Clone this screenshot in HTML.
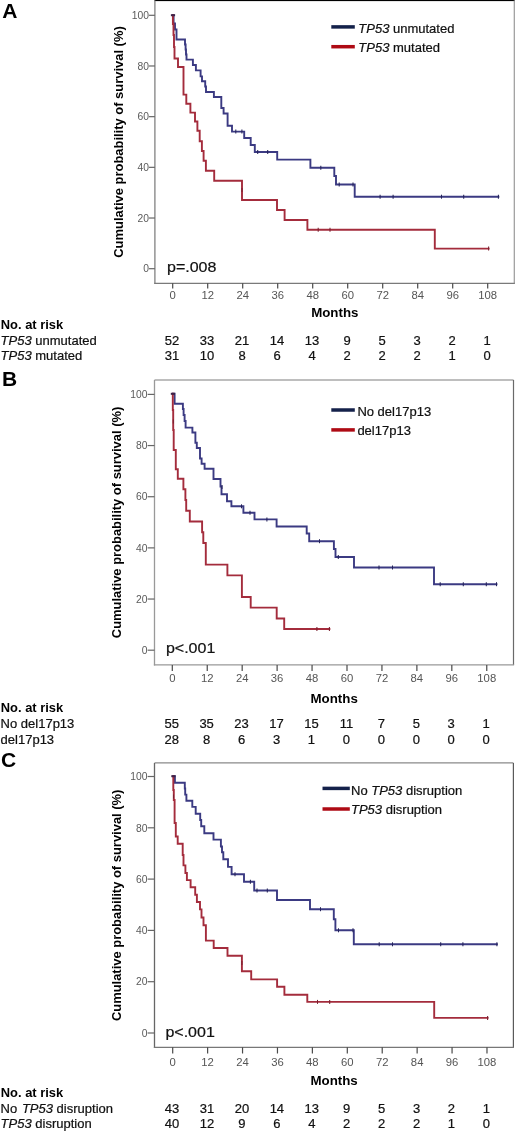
<!DOCTYPE html>
<html><head><meta charset="utf-8"><title>Kaplan-Meier survival curves</title>
<style>
html,body{margin:0;padding:0;background:#fff;}
body{width:520px;height:1134px;overflow:hidden;}
svg{display:block;font-family:"Liberation Sans", sans-serif;will-change:transform;}
</style></head><body>
<svg width="520" height="1134" viewBox="0 0 520 1134">
<rect width="520" height="1134" fill="#fff"/>
<text x="2.3" y="17.8" font-size="21" font-weight="bold" fill="#000">A</text>
<rect x="154.5" y="0" width="360.2" height="1.1" fill="#000"/>
<line x1="514.3" y1="0.5" x2="514.3" y2="283.3" stroke="#9a9a9a" stroke-width="1.2"/>
<line x1="154.9" y1="0.5" x2="154.9" y2="283.90000000000003" stroke="#808080" stroke-width="1.3"/>
<line x1="154.3" y1="283.3" x2="514.9" y2="283.3" stroke="#7a7a7a" stroke-width="1.3"/>
<line x1="149.0" y1="268.70" x2="154.9" y2="268.70" stroke="#666" stroke-width="1.2"/>
<text x="148.9" y="272.40" font-size="10.3" fill="#5a5a5a" text-anchor="end">0</text>
<line x1="149.0" y1="218.02" x2="154.9" y2="218.02" stroke="#666" stroke-width="1.2"/>
<text x="148.9" y="221.72" font-size="10.3" fill="#5a5a5a" text-anchor="end">20</text>
<line x1="149.0" y1="167.34" x2="154.9" y2="167.34" stroke="#666" stroke-width="1.2"/>
<text x="148.9" y="171.04" font-size="10.3" fill="#5a5a5a" text-anchor="end">40</text>
<line x1="149.0" y1="116.66" x2="154.9" y2="116.66" stroke="#666" stroke-width="1.2"/>
<text x="148.9" y="120.36" font-size="10.3" fill="#5a5a5a" text-anchor="end">60</text>
<line x1="149.0" y1="65.98" x2="154.9" y2="65.98" stroke="#666" stroke-width="1.2"/>
<text x="148.9" y="69.68" font-size="10.3" fill="#5a5a5a" text-anchor="end">80</text>
<line x1="149.0" y1="15.30" x2="154.9" y2="15.30" stroke="#666" stroke-width="1.2"/>
<text x="148.9" y="19.00" font-size="10.3" fill="#5a5a5a" text-anchor="end">100</text>
<line x1="172.70" y1="283.3" x2="172.70" y2="288.6" stroke="#4a4a4a" stroke-width="1.2"/>
<text x="172.70" y="299.0" font-size="11.3" fill="#555" text-anchor="middle">0</text>
<line x1="207.70" y1="283.3" x2="207.70" y2="288.6" stroke="#4a4a4a" stroke-width="1.2"/>
<text x="207.70" y="299.0" font-size="11.3" fill="#555" text-anchor="middle">12</text>
<line x1="242.70" y1="283.3" x2="242.70" y2="288.6" stroke="#4a4a4a" stroke-width="1.2"/>
<text x="242.70" y="299.0" font-size="11.3" fill="#555" text-anchor="middle">24</text>
<line x1="277.70" y1="283.3" x2="277.70" y2="288.6" stroke="#4a4a4a" stroke-width="1.2"/>
<text x="277.70" y="299.0" font-size="11.3" fill="#555" text-anchor="middle">36</text>
<line x1="312.70" y1="283.3" x2="312.70" y2="288.6" stroke="#4a4a4a" stroke-width="1.2"/>
<text x="312.70" y="299.0" font-size="11.3" fill="#555" text-anchor="middle">48</text>
<line x1="347.70" y1="283.3" x2="347.70" y2="288.6" stroke="#4a4a4a" stroke-width="1.2"/>
<text x="347.70" y="299.0" font-size="11.3" fill="#555" text-anchor="middle">60</text>
<line x1="382.70" y1="283.3" x2="382.70" y2="288.6" stroke="#4a4a4a" stroke-width="1.2"/>
<text x="382.70" y="299.0" font-size="11.3" fill="#555" text-anchor="middle">72</text>
<line x1="417.70" y1="283.3" x2="417.70" y2="288.6" stroke="#4a4a4a" stroke-width="1.2"/>
<text x="417.70" y="299.0" font-size="11.3" fill="#555" text-anchor="middle">84</text>
<line x1="452.70" y1="283.3" x2="452.70" y2="288.6" stroke="#4a4a4a" stroke-width="1.2"/>
<text x="452.70" y="299.0" font-size="11.3" fill="#555" text-anchor="middle">96</text>
<line x1="487.70" y1="283.3" x2="487.70" y2="288.6" stroke="#4a4a4a" stroke-width="1.2"/>
<text x="487.70" y="299.0" font-size="11.3" fill="#555" text-anchor="middle">108</text>
<text transform="translate(122.6,142.0) rotate(-90)" font-size="12.95" font-weight="bold" text-anchor="middle" fill="#000">Cumulative probability of survival (%)</text>
<text x="334.80" y="317.3" font-size="13.3" font-weight="bold" text-anchor="middle" fill="#000">Months</text>
<line x1="331.3" y1="26.9" x2="354.8" y2="26.9" stroke="#14214a" stroke-width="3.5"/>
<text x="358.3" y="33.1" font-size="13" fill="#111" stroke="#111" stroke-width="0.22"><tspan font-style="italic">TP53</tspan> unmutated</text>
<line x1="331.3" y1="46.7" x2="354.8" y2="46.7" stroke="#ae0a14" stroke-width="3.5"/>
<text x="358.3" y="52.3" font-size="13" fill="#111" stroke="#111" stroke-width="0.22"><tspan font-style="italic">TP53</tspan> mutated</text>
<text x="167.0" y="272.4" textLength="49.4" lengthAdjust="spacingAndGlyphs" font-size="15.5" fill="#111" stroke="#111" stroke-width="0.22">p=.008</text>
<path d="M172.9 15.2 H173.6 V23.5 H175 V29.5 H176.5 V39.5 H185 V44.5 H185.6 V49.5 H186 V54.5 H186.5 V59.6 H192.9 V65 H195.9 V70.4 H200.6 V76.4 H202 V81.2 H205.2 V86.5 H206 V92 H213.9 V97 H221.3 V108 H223.6 V113.5 H227.6 V125.8 H232 V131.6 H244.2 V138 H250.7 V145 H254.8 V152 H277.2 V159.6 H310.4 V167.7 H334.3 V176 H336 V184.5 H354.7 V196.7 H498.4" fill="none" stroke="#3b3a82" stroke-width="1.9" stroke-linejoin="miter" stroke-linecap="square"/>
<line x1="235.8" y1="129.6" x2="235.8" y2="133.6" stroke="#25235a" stroke-width="1.05"/>
<line x1="241.9" y1="129.6" x2="241.9" y2="133.6" stroke="#25235a" stroke-width="1.05"/>
<line x1="257.7" y1="150.0" x2="257.7" y2="154.0" stroke="#25235a" stroke-width="1.05"/>
<line x1="267.7" y1="150.0" x2="267.7" y2="154.0" stroke="#25235a" stroke-width="1.05"/>
<line x1="320.8" y1="165.7" x2="320.8" y2="169.7" stroke="#25235a" stroke-width="1.05"/>
<line x1="339.2" y1="182.5" x2="339.2" y2="186.5" stroke="#25235a" stroke-width="1.05"/>
<line x1="353" y1="182.5" x2="353" y2="186.5" stroke="#25235a" stroke-width="1.05"/>
<line x1="380.1" y1="194.7" x2="380.1" y2="198.7" stroke="#25235a" stroke-width="1.05"/>
<line x1="393.1" y1="194.7" x2="393.1" y2="198.7" stroke="#25235a" stroke-width="1.05"/>
<line x1="441.5" y1="194.7" x2="441.5" y2="198.7" stroke="#25235a" stroke-width="1.05"/>
<line x1="463.7" y1="194.7" x2="463.7" y2="198.7" stroke="#25235a" stroke-width="1.05"/>
<line x1="498.4" y1="194.7" x2="498.4" y2="198.7" stroke="#25235a" stroke-width="1.05"/>
<path d="M172.9 15.2 V24 H173.5 V35 H174 V47 H174.5 V58.5 H178 V67 H183.5 V94.6 H186.3 V103.8 H190.4 V112.6 H195 V121.5 H197.4 V130.8 H199.7 V141.2 H201.9 V151 H203.6 V160.8 H205.9 V170.8 H214.2 V180.8 H242 V200 H277 V210 H284.6 V220 H307.4 V229.8 H434.8 V248.6 H488.6" fill="none" stroke="#a42c3c" stroke-width="1.9" stroke-linejoin="miter" stroke-linecap="square"/>
<line x1="242" y1="188.0" x2="242" y2="192.0" stroke="#7a2030" stroke-width="1.05"/>
<line x1="318.2" y1="227.8" x2="318.2" y2="231.8" stroke="#7a2030" stroke-width="1.05"/>
<line x1="330" y1="227.8" x2="330" y2="231.8" stroke="#7a2030" stroke-width="1.05"/>
<line x1="488.6" y1="246.6" x2="488.6" y2="250.6" stroke="#7a2030" stroke-width="1.05"/>
<rect x="170.9" y="14.2" width="4.2" height="2.0" fill="#3e2248"/>
<text x="0.8" y="328.6" font-size="12.9" font-weight="bold" fill="#000">No. at risk</text>
<text x="0.6" y="344.7" font-size="13" fill="#111" stroke="#111" stroke-width="0.22"><tspan font-style="italic">TP53</tspan> unmutated</text>
<text x="0.6" y="360.3" font-size="13" fill="#111" stroke="#111" stroke-width="0.22"><tspan font-style="italic">TP53</tspan> mutated</text>
<text x="172.10" y="344.80" font-size="13" fill="#111" stroke="#111" stroke-width="0.22" text-anchor="middle">52</text>
<text x="172.10" y="360.30" font-size="13" fill="#111" stroke="#111" stroke-width="0.22" text-anchor="middle">31</text>
<text x="207.10" y="344.80" font-size="13" fill="#111" stroke="#111" stroke-width="0.22" text-anchor="middle">33</text>
<text x="207.10" y="360.30" font-size="13" fill="#111" stroke="#111" stroke-width="0.22" text-anchor="middle">10</text>
<text x="242.10" y="344.80" font-size="13" fill="#111" stroke="#111" stroke-width="0.22" text-anchor="middle">21</text>
<text x="242.10" y="360.30" font-size="13" fill="#111" stroke="#111" stroke-width="0.22" text-anchor="middle">8</text>
<text x="277.10" y="344.80" font-size="13" fill="#111" stroke="#111" stroke-width="0.22" text-anchor="middle">14</text>
<text x="277.10" y="360.30" font-size="13" fill="#111" stroke="#111" stroke-width="0.22" text-anchor="middle">6</text>
<text x="312.10" y="344.80" font-size="13" fill="#111" stroke="#111" stroke-width="0.22" text-anchor="middle">13</text>
<text x="312.10" y="360.30" font-size="13" fill="#111" stroke="#111" stroke-width="0.22" text-anchor="middle">4</text>
<text x="347.10" y="344.80" font-size="13" fill="#111" stroke="#111" stroke-width="0.22" text-anchor="middle">9</text>
<text x="347.10" y="360.30" font-size="13" fill="#111" stroke="#111" stroke-width="0.22" text-anchor="middle">2</text>
<text x="382.10" y="344.80" font-size="13" fill="#111" stroke="#111" stroke-width="0.22" text-anchor="middle">5</text>
<text x="382.10" y="360.30" font-size="13" fill="#111" stroke="#111" stroke-width="0.22" text-anchor="middle">2</text>
<text x="417.10" y="344.80" font-size="13" fill="#111" stroke="#111" stroke-width="0.22" text-anchor="middle">3</text>
<text x="417.10" y="360.30" font-size="13" fill="#111" stroke="#111" stroke-width="0.22" text-anchor="middle">2</text>
<text x="452.10" y="344.80" font-size="13" fill="#111" stroke="#111" stroke-width="0.22" text-anchor="middle">2</text>
<text x="452.10" y="360.30" font-size="13" fill="#111" stroke="#111" stroke-width="0.22" text-anchor="middle">1</text>
<text x="487.10" y="344.80" font-size="13" fill="#111" stroke="#111" stroke-width="0.22" text-anchor="middle">1</text>
<text x="487.10" y="360.30" font-size="13" fill="#111" stroke="#111" stroke-width="0.22" text-anchor="middle">0</text>
<text x="2.0" y="385.5" font-size="21" font-weight="bold" fill="#000">B</text>
<line x1="154.5" y1="380.0" x2="513.5" y2="380.0" stroke="#a8a8a8" stroke-width="1.4"/>
<line x1="513.5" y1="380.0" x2="513.5" y2="664.9" stroke="#6a6a6a" stroke-width="1.2"/>
<line x1="154.5" y1="380.0" x2="154.5" y2="665.5" stroke="#999" stroke-width="1.3"/>
<line x1="153.9" y1="664.9" x2="514.1" y2="664.9" stroke="#999" stroke-width="1.3"/>
<line x1="147.6" y1="650.20" x2="154.5" y2="650.20" stroke="#666" stroke-width="1.2"/>
<text x="147.5" y="653.90" font-size="10.3" fill="#5a5a5a" text-anchor="end">0</text>
<line x1="147.6" y1="599.04" x2="154.5" y2="599.04" stroke="#666" stroke-width="1.2"/>
<text x="147.5" y="602.74" font-size="10.3" fill="#5a5a5a" text-anchor="end">20</text>
<line x1="147.6" y1="547.88" x2="154.5" y2="547.88" stroke="#666" stroke-width="1.2"/>
<text x="147.5" y="551.58" font-size="10.3" fill="#5a5a5a" text-anchor="end">40</text>
<line x1="147.6" y1="496.72" x2="154.5" y2="496.72" stroke="#666" stroke-width="1.2"/>
<text x="147.5" y="500.42" font-size="10.3" fill="#5a5a5a" text-anchor="end">60</text>
<line x1="147.6" y1="445.56" x2="154.5" y2="445.56" stroke="#666" stroke-width="1.2"/>
<text x="147.5" y="449.26" font-size="10.3" fill="#5a5a5a" text-anchor="end">80</text>
<line x1="147.6" y1="394.40" x2="154.5" y2="394.40" stroke="#666" stroke-width="1.2"/>
<text x="147.5" y="398.10" font-size="10.3" fill="#5a5a5a" text-anchor="end">100</text>
<line x1="172.30" y1="664.9" x2="172.30" y2="671.1" stroke="#4a4a4a" stroke-width="1.2"/>
<text x="172.30" y="682.4" font-size="11.3" fill="#555" text-anchor="middle">0</text>
<line x1="207.24" y1="664.9" x2="207.24" y2="671.1" stroke="#4a4a4a" stroke-width="1.2"/>
<text x="207.24" y="682.4" font-size="11.3" fill="#555" text-anchor="middle">12</text>
<line x1="242.18" y1="664.9" x2="242.18" y2="671.1" stroke="#4a4a4a" stroke-width="1.2"/>
<text x="242.18" y="682.4" font-size="11.3" fill="#555" text-anchor="middle">24</text>
<line x1="277.12" y1="664.9" x2="277.12" y2="671.1" stroke="#4a4a4a" stroke-width="1.2"/>
<text x="277.12" y="682.4" font-size="11.3" fill="#555" text-anchor="middle">36</text>
<line x1="312.06" y1="664.9" x2="312.06" y2="671.1" stroke="#4a4a4a" stroke-width="1.2"/>
<text x="312.06" y="682.4" font-size="11.3" fill="#555" text-anchor="middle">48</text>
<line x1="347.00" y1="664.9" x2="347.00" y2="671.1" stroke="#4a4a4a" stroke-width="1.2"/>
<text x="347.00" y="682.4" font-size="11.3" fill="#555" text-anchor="middle">60</text>
<line x1="381.94" y1="664.9" x2="381.94" y2="671.1" stroke="#4a4a4a" stroke-width="1.2"/>
<text x="381.94" y="682.4" font-size="11.3" fill="#555" text-anchor="middle">72</text>
<line x1="416.88" y1="664.9" x2="416.88" y2="671.1" stroke="#4a4a4a" stroke-width="1.2"/>
<text x="416.88" y="682.4" font-size="11.3" fill="#555" text-anchor="middle">84</text>
<line x1="451.82" y1="664.9" x2="451.82" y2="671.1" stroke="#4a4a4a" stroke-width="1.2"/>
<text x="451.82" y="682.4" font-size="11.3" fill="#555" text-anchor="middle">96</text>
<line x1="486.76" y1="664.9" x2="486.76" y2="671.1" stroke="#4a4a4a" stroke-width="1.2"/>
<text x="486.76" y="682.4" font-size="11.3" fill="#555" text-anchor="middle">108</text>
<text transform="translate(120.5,522.45) rotate(-90)" font-size="12.95" font-weight="bold" text-anchor="middle" fill="#000">Cumulative probability of survival (%)</text>
<text x="334.20" y="702.8" font-size="13.3" font-weight="bold" text-anchor="middle" fill="#000">Months</text>
<line x1="331.3" y1="410.0" x2="354.8" y2="410.0" stroke="#14214a" stroke-width="3.5"/>
<text x="357.4" y="415.6" font-size="13" fill="#111" stroke="#111" stroke-width="0.22">No del17p13</text>
<line x1="331.3" y1="429.9" x2="354.8" y2="429.9" stroke="#ae0a14" stroke-width="3.5"/>
<text x="357.4" y="435.0" font-size="13" fill="#111" stroke="#111" stroke-width="0.22">del17p13</text>
<text x="165.9" y="653.4" textLength="49.4" lengthAdjust="spacingAndGlyphs" font-size="15.5" fill="#111" stroke="#111" stroke-width="0.22">p&lt;.001</text>
<path d="M172.9 393.8 H174.6 V403.7 H182.9 V409 H183.6 V415 H184.6 V421 H185.6 V427.6 H192.4 V432.5 H195.4 V442.7 H196.8 V448 H200 V458.5 H201.6 V463.7 H204.6 V468.8 H213.5 V479 H220.5 V486.5 H221.5 V494.2 H227 V501.2 H231.4 V506.3 H243.4 V512.7 H254.5 V519.4 H276.6 V526.5 H306.7 V533.5 H309.2 V541.2 H333.9 V549 H335.5 V557 H354 V567.5 H434 V584.2 H496.5" fill="none" stroke="#3b3a82" stroke-width="1.9" stroke-linejoin="miter" stroke-linecap="square"/>
<line x1="222" y1="485.0" x2="222" y2="489.0" stroke="#25235a" stroke-width="1.05"/>
<line x1="241.5" y1="504.3" x2="241.5" y2="508.3" stroke="#25235a" stroke-width="1.05"/>
<line x1="250" y1="510.70000000000005" x2="250" y2="514.7" stroke="#25235a" stroke-width="1.05"/>
<line x1="266.9" y1="517.4" x2="266.9" y2="521.4" stroke="#25235a" stroke-width="1.05"/>
<line x1="319.5" y1="539.2" x2="319.5" y2="543.2" stroke="#25235a" stroke-width="1.05"/>
<line x1="338.3" y1="555.0" x2="338.3" y2="559.0" stroke="#25235a" stroke-width="1.05"/>
<line x1="379" y1="565.5" x2="379" y2="569.5" stroke="#25235a" stroke-width="1.05"/>
<line x1="392.5" y1="565.5" x2="392.5" y2="569.5" stroke="#25235a" stroke-width="1.05"/>
<line x1="440.2" y1="582.2" x2="440.2" y2="586.2" stroke="#25235a" stroke-width="1.05"/>
<line x1="463.3" y1="582.2" x2="463.3" y2="586.2" stroke="#25235a" stroke-width="1.05"/>
<line x1="486.3" y1="582.2" x2="486.3" y2="586.2" stroke="#25235a" stroke-width="1.05"/>
<line x1="496.5" y1="582.2" x2="496.5" y2="586.2" stroke="#25235a" stroke-width="1.05"/>
<path d="M172.8 393.8 V410 H173.2 V430 H173.7 V450 H175.8 V469.2 H177.8 V478.7 H183.4 V489.2 H185.4 V500 H186.2 V510.8 H189.8 V521.5 H202.1 V532.3 H203.3 V543 H205.8 V564.6 H227.4 V575.4 H241.9 V597 H250.7 V607.6 H276.7 V618.5 H284.2 V629 H329.4" fill="none" stroke="#a42c3c" stroke-width="1.9" stroke-linejoin="miter" stroke-linecap="square"/>
<line x1="173.3" y1="419.5" x2="173.3" y2="423.5" stroke="#7a2030" stroke-width="1.05"/>
<line x1="316.9" y1="627.0" x2="316.9" y2="631.0" stroke="#7a2030" stroke-width="1.05"/>
<line x1="329.4" y1="627.0" x2="329.4" y2="631.0" stroke="#7a2030" stroke-width="1.05"/>
<rect x="170.8" y="392.8" width="4.2" height="2.0" fill="#3e2248"/>
<text x="0.8" y="711.9" font-size="12.9" font-weight="bold" fill="#000">No. at risk</text>
<text x="0.6" y="727.7" font-size="13" fill="#111" stroke="#111" stroke-width="0.22">No del17p13</text>
<text x="0.6" y="743.6" font-size="13" fill="#111" stroke="#111" stroke-width="0.22">del17p13</text>
<text x="171.70" y="727.80" font-size="13" fill="#111" stroke="#111" stroke-width="0.22" text-anchor="middle">55</text>
<text x="171.70" y="743.60" font-size="13" fill="#111" stroke="#111" stroke-width="0.22" text-anchor="middle">28</text>
<text x="206.64" y="727.80" font-size="13" fill="#111" stroke="#111" stroke-width="0.22" text-anchor="middle">35</text>
<text x="206.64" y="743.60" font-size="13" fill="#111" stroke="#111" stroke-width="0.22" text-anchor="middle">8</text>
<text x="241.58" y="727.80" font-size="13" fill="#111" stroke="#111" stroke-width="0.22" text-anchor="middle">23</text>
<text x="241.58" y="743.60" font-size="13" fill="#111" stroke="#111" stroke-width="0.22" text-anchor="middle">6</text>
<text x="276.52" y="727.80" font-size="13" fill="#111" stroke="#111" stroke-width="0.22" text-anchor="middle">17</text>
<text x="276.52" y="743.60" font-size="13" fill="#111" stroke="#111" stroke-width="0.22" text-anchor="middle">3</text>
<text x="311.46" y="727.80" font-size="13" fill="#111" stroke="#111" stroke-width="0.22" text-anchor="middle">15</text>
<text x="311.46" y="743.60" font-size="13" fill="#111" stroke="#111" stroke-width="0.22" text-anchor="middle">1</text>
<text x="346.40" y="727.80" font-size="13" fill="#111" stroke="#111" stroke-width="0.22" text-anchor="middle">11</text>
<text x="346.40" y="743.60" font-size="13" fill="#111" stroke="#111" stroke-width="0.22" text-anchor="middle">0</text>
<text x="381.34" y="727.80" font-size="13" fill="#111" stroke="#111" stroke-width="0.22" text-anchor="middle">7</text>
<text x="381.34" y="743.60" font-size="13" fill="#111" stroke="#111" stroke-width="0.22" text-anchor="middle">0</text>
<text x="416.28" y="727.80" font-size="13" fill="#111" stroke="#111" stroke-width="0.22" text-anchor="middle">5</text>
<text x="416.28" y="743.60" font-size="13" fill="#111" stroke="#111" stroke-width="0.22" text-anchor="middle">0</text>
<text x="451.22" y="727.80" font-size="13" fill="#111" stroke="#111" stroke-width="0.22" text-anchor="middle">3</text>
<text x="451.22" y="743.60" font-size="13" fill="#111" stroke="#111" stroke-width="0.22" text-anchor="middle">0</text>
<text x="486.16" y="727.80" font-size="13" fill="#111" stroke="#111" stroke-width="0.22" text-anchor="middle">1</text>
<text x="486.16" y="743.60" font-size="13" fill="#111" stroke="#111" stroke-width="0.22" text-anchor="middle">0</text>
<text x="1.0" y="766.7" font-size="21" font-weight="bold" fill="#000">C</text>
<line x1="154.5" y1="762.9" x2="513.4" y2="762.9" stroke="#8a8a8a" stroke-width="1.4"/>
<line x1="513.4" y1="762.9" x2="513.4" y2="1047.3" stroke="#5a5a5a" stroke-width="1.2"/>
<line x1="154.5" y1="762.9" x2="154.5" y2="1047.8999999999999" stroke="#666" stroke-width="1.3"/>
<line x1="153.9" y1="1047.3" x2="514.0" y2="1047.3" stroke="#777" stroke-width="1.3"/>
<line x1="147.6" y1="1033.00" x2="154.5" y2="1033.00" stroke="#666" stroke-width="1.2"/>
<text x="147.5" y="1036.70" font-size="10.3" fill="#5a5a5a" text-anchor="end">0</text>
<line x1="147.6" y1="981.70" x2="154.5" y2="981.70" stroke="#666" stroke-width="1.2"/>
<text x="147.5" y="985.40" font-size="10.3" fill="#5a5a5a" text-anchor="end">20</text>
<line x1="147.6" y1="930.40" x2="154.5" y2="930.40" stroke="#666" stroke-width="1.2"/>
<text x="147.5" y="934.10" font-size="10.3" fill="#5a5a5a" text-anchor="end">40</text>
<line x1="147.6" y1="879.10" x2="154.5" y2="879.10" stroke="#666" stroke-width="1.2"/>
<text x="147.5" y="882.80" font-size="10.3" fill="#5a5a5a" text-anchor="end">60</text>
<line x1="147.6" y1="827.80" x2="154.5" y2="827.80" stroke="#666" stroke-width="1.2"/>
<text x="147.5" y="831.50" font-size="10.3" fill="#5a5a5a" text-anchor="end">80</text>
<line x1="147.6" y1="776.50" x2="154.5" y2="776.50" stroke="#666" stroke-width="1.2"/>
<text x="147.5" y="780.20" font-size="10.3" fill="#5a5a5a" text-anchor="end">100</text>
<line x1="172.70" y1="1047.3" x2="172.70" y2="1053.5" stroke="#4a4a4a" stroke-width="1.2"/>
<text x="172.70" y="1065.5" font-size="11.3" fill="#555" text-anchor="middle">0</text>
<line x1="207.62" y1="1047.3" x2="207.62" y2="1053.5" stroke="#4a4a4a" stroke-width="1.2"/>
<text x="207.62" y="1065.5" font-size="11.3" fill="#555" text-anchor="middle">12</text>
<line x1="242.54" y1="1047.3" x2="242.54" y2="1053.5" stroke="#4a4a4a" stroke-width="1.2"/>
<text x="242.54" y="1065.5" font-size="11.3" fill="#555" text-anchor="middle">24</text>
<line x1="277.46" y1="1047.3" x2="277.46" y2="1053.5" stroke="#4a4a4a" stroke-width="1.2"/>
<text x="277.46" y="1065.5" font-size="11.3" fill="#555" text-anchor="middle">36</text>
<line x1="312.38" y1="1047.3" x2="312.38" y2="1053.5" stroke="#4a4a4a" stroke-width="1.2"/>
<text x="312.38" y="1065.5" font-size="11.3" fill="#555" text-anchor="middle">48</text>
<line x1="347.30" y1="1047.3" x2="347.30" y2="1053.5" stroke="#4a4a4a" stroke-width="1.2"/>
<text x="347.30" y="1065.5" font-size="11.3" fill="#555" text-anchor="middle">60</text>
<line x1="382.22" y1="1047.3" x2="382.22" y2="1053.5" stroke="#4a4a4a" stroke-width="1.2"/>
<text x="382.22" y="1065.5" font-size="11.3" fill="#555" text-anchor="middle">72</text>
<line x1="417.14" y1="1047.3" x2="417.14" y2="1053.5" stroke="#4a4a4a" stroke-width="1.2"/>
<text x="417.14" y="1065.5" font-size="11.3" fill="#555" text-anchor="middle">84</text>
<line x1="452.06" y1="1047.3" x2="452.06" y2="1053.5" stroke="#4a4a4a" stroke-width="1.2"/>
<text x="452.06" y="1065.5" font-size="11.3" fill="#555" text-anchor="middle">96</text>
<line x1="486.98" y1="1047.3" x2="486.98" y2="1053.5" stroke="#4a4a4a" stroke-width="1.2"/>
<text x="486.98" y="1065.5" font-size="11.3" fill="#555" text-anchor="middle">108</text>
<text transform="translate(120.5,905.35) rotate(-90)" font-size="12.95" font-weight="bold" text-anchor="middle" fill="#000">Cumulative probability of survival (%)</text>
<text x="334.15" y="1085.4" font-size="13.3" font-weight="bold" text-anchor="middle" fill="#000">Months</text>
<line x1="322.5" y1="788.4" x2="349.8" y2="788.4" stroke="#14214a" stroke-width="3.5"/>
<text x="351.0" y="794.6" font-size="13" fill="#111" stroke="#111" stroke-width="0.22">No <tspan font-style="italic">TP53</tspan> disruption</text>
<line x1="322.5" y1="809.0" x2="349.8" y2="809.0" stroke="#ae0a14" stroke-width="3.5"/>
<text x="351.0" y="813.6" font-size="13" fill="#111" stroke="#111" stroke-width="0.22"><tspan font-style="italic">TP53</tspan> disruption</text>
<text x="165.4" y="1037.0" textLength="49.4" lengthAdjust="spacingAndGlyphs" font-size="15.5" fill="#111" stroke="#111" stroke-width="0.22">p&lt;.001</text>
<path d="M173.3 776.2 H174.9 V782.8 H184.8 V788.5 H185.2 V794.6 H186.4 V800.8 H192.3 V806.9 H195.7 V813.8 H200.2 V820 H201.2 V826.2 H204.3 V833.2 H213.5 V839.6 H220.9 V846.5 H222 V852.3 H223.3 V859.2 H228 V866.9 H231.6 V874.2 H244 V881.8 H254.2 V890.5 H277 V900 H310 V909.2 H333.8 V919.2 H335.4 V930.3 H353.8 V944.3 H496.9" fill="none" stroke="#3b3a82" stroke-width="1.9" stroke-linejoin="miter" stroke-linecap="square"/>
<line x1="235" y1="872.2" x2="235" y2="876.2" stroke="#25235a" stroke-width="1.05"/>
<line x1="250.4" y1="879.8" x2="250.4" y2="883.8" stroke="#25235a" stroke-width="1.05"/>
<line x1="257" y1="888.5" x2="257" y2="892.5" stroke="#25235a" stroke-width="1.05"/>
<line x1="267.3" y1="888.5" x2="267.3" y2="892.5" stroke="#25235a" stroke-width="1.05"/>
<line x1="320.5" y1="907.2" x2="320.5" y2="911.2" stroke="#25235a" stroke-width="1.05"/>
<line x1="338.5" y1="928.3" x2="338.5" y2="932.3" stroke="#25235a" stroke-width="1.05"/>
<line x1="353" y1="928.3" x2="353" y2="932.3" stroke="#25235a" stroke-width="1.05"/>
<line x1="379.2" y1="942.3" x2="379.2" y2="946.3" stroke="#25235a" stroke-width="1.05"/>
<line x1="392.5" y1="942.3" x2="392.5" y2="946.3" stroke="#25235a" stroke-width="1.05"/>
<line x1="440.7" y1="942.3" x2="440.7" y2="946.3" stroke="#25235a" stroke-width="1.05"/>
<line x1="462.9" y1="942.3" x2="462.9" y2="946.3" stroke="#25235a" stroke-width="1.05"/>
<line x1="496.9" y1="942.3" x2="496.9" y2="946.3" stroke="#25235a" stroke-width="1.05"/>
<path d="M173.3 776.2 V790 H173.8 V800 H174.6 V823 H175.8 V836.5 H177.7 V843.8 H182.7 V855 H183.5 V865.4 H185.4 V873 H186.9 V880.1 H190.6 V887.2 H195.2 V894.7 H196.9 V902 H200 V909.4 H201.5 V917.5 H203.5 V925.3 H205.9 V940.6 H213.7 V948 H227.5 V955.8 H241.9 V971.3 H251.2 V979.4 H277.1 V986.7 H284.4 V994.8 H307.3 V1001.9 H434.2 V1017.9 H487.6" fill="none" stroke="#a42c3c" stroke-width="1.9" stroke-linejoin="miter" stroke-linecap="square"/>
<line x1="173.5" y1="794.5" x2="173.5" y2="798.5" stroke="#7a2030" stroke-width="1.05"/>
<line x1="241.9" y1="961.0" x2="241.9" y2="965.0" stroke="#7a2030" stroke-width="1.05"/>
<line x1="317.5" y1="999.9" x2="317.5" y2="1003.9" stroke="#7a2030" stroke-width="1.05"/>
<line x1="329.7" y1="999.9" x2="329.7" y2="1003.9" stroke="#7a2030" stroke-width="1.05"/>
<line x1="487.6" y1="1015.9" x2="487.6" y2="1019.9" stroke="#7a2030" stroke-width="1.05"/>
<rect x="171.3" y="775.2" width="4.2" height="2.0" fill="#3e2248"/>
<text x="0.8" y="1096.6" font-size="12.9" font-weight="bold" fill="#000">No. at risk</text>
<text x="0.6" y="1112.6" font-size="13" fill="#111" stroke="#111" stroke-width="0.22">No <tspan dx="1.1" font-style="italic">TP53</tspan> disruption</text>
<text x="0.6" y="1128.4" font-size="13" fill="#111" stroke="#111" stroke-width="0.22"><tspan font-style="italic">TP53</tspan> disruption</text>
<text x="172.10" y="1112.70" font-size="13" fill="#111" stroke="#111" stroke-width="0.22" text-anchor="middle">43</text>
<text x="172.10" y="1128.40" font-size="13" fill="#111" stroke="#111" stroke-width="0.22" text-anchor="middle">40</text>
<text x="207.02" y="1112.70" font-size="13" fill="#111" stroke="#111" stroke-width="0.22" text-anchor="middle">31</text>
<text x="207.02" y="1128.40" font-size="13" fill="#111" stroke="#111" stroke-width="0.22" text-anchor="middle">12</text>
<text x="241.94" y="1112.70" font-size="13" fill="#111" stroke="#111" stroke-width="0.22" text-anchor="middle">20</text>
<text x="241.94" y="1128.40" font-size="13" fill="#111" stroke="#111" stroke-width="0.22" text-anchor="middle">9</text>
<text x="276.86" y="1112.70" font-size="13" fill="#111" stroke="#111" stroke-width="0.22" text-anchor="middle">14</text>
<text x="276.86" y="1128.40" font-size="13" fill="#111" stroke="#111" stroke-width="0.22" text-anchor="middle">6</text>
<text x="311.78" y="1112.70" font-size="13" fill="#111" stroke="#111" stroke-width="0.22" text-anchor="middle">13</text>
<text x="311.78" y="1128.40" font-size="13" fill="#111" stroke="#111" stroke-width="0.22" text-anchor="middle">4</text>
<text x="346.70" y="1112.70" font-size="13" fill="#111" stroke="#111" stroke-width="0.22" text-anchor="middle">9</text>
<text x="346.70" y="1128.40" font-size="13" fill="#111" stroke="#111" stroke-width="0.22" text-anchor="middle">2</text>
<text x="381.62" y="1112.70" font-size="13" fill="#111" stroke="#111" stroke-width="0.22" text-anchor="middle">5</text>
<text x="381.62" y="1128.40" font-size="13" fill="#111" stroke="#111" stroke-width="0.22" text-anchor="middle">2</text>
<text x="416.54" y="1112.70" font-size="13" fill="#111" stroke="#111" stroke-width="0.22" text-anchor="middle">3</text>
<text x="416.54" y="1128.40" font-size="13" fill="#111" stroke="#111" stroke-width="0.22" text-anchor="middle">2</text>
<text x="451.46" y="1112.70" font-size="13" fill="#111" stroke="#111" stroke-width="0.22" text-anchor="middle">2</text>
<text x="451.46" y="1128.40" font-size="13" fill="#111" stroke="#111" stroke-width="0.22" text-anchor="middle">1</text>
<text x="486.38" y="1112.70" font-size="13" fill="#111" stroke="#111" stroke-width="0.22" text-anchor="middle">1</text>
<text x="486.38" y="1128.40" font-size="13" fill="#111" stroke="#111" stroke-width="0.22" text-anchor="middle">0</text>
</svg>
</body></html>
